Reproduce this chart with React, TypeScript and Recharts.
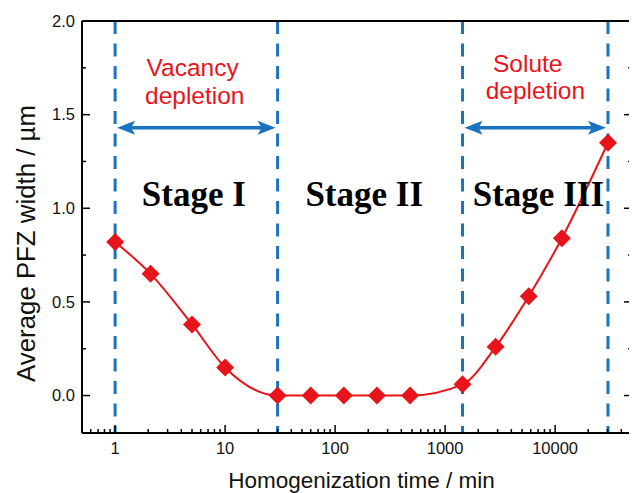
import { LineChart, Line, XAxis, YAxis, ReferenceLine, ReferenceDot } from 'recharts'

// homogenization time (min) vs. average PFZ width (µm)
const TIME_MIN = [1, 2.1, 5, 10, 30, 60, 120, 240, 480, 1440, 2880, 5760, 11520, 30240]
const PFZ_WIDTH_UM = [0.82, 0.65, 0.38, 0.15, 0, 0, 0, 0, 0, 0.06, 0.26, 0.53, 0.84, 1.35]

const X_MAJOR = [1, 10, 100, 1000, 10000]
const X_MINOR = [
  0.6, 0.7, 0.8, 0.9,
  2, 3, 4, 5, 6, 7, 8, 9,
  20, 30, 40, 50, 60, 70, 80, 90,
  200, 300, 400, 500, 600, 700, 800, 900,
  2000, 3000, 4000, 5000, 6000, 7000, 8000, 9000,
  20000, 30000, 40000,
]
const Y_MAJOR = [0, 0.5, 1, 1.5, 2]
const Y_MINOR = [0.25, 0.75, 1.25, 1.75]

// stage boundaries and labels
const STAGE_BOUNDS = [1, 30, 1440, 30240]
const STAGE_NAMES = ['Stage I', 'Stage II', 'Stage III']
const STAGE_X = [5.2, 184, 7045]
const STAGE_Y = 1.01

const ARROW_FROM = [1, 1440]
const ARROW_TO = [30, 30240]
const ARROW_Y = 1.43

const NOTE_TEXT = ['Vacancy', 'depletion', 'Solute', 'depletion']
const NOTE_X = [5.06, 5.3, 5640, 6620]
const NOTE_Y = [1.705, 1.555, 1.726, 1.582]

const RED = '#e8141b'
const BLUE = '#1b72be'
const SANS = "'Liberation Sans', Arial, sans-serif"
const SERIF = "'Liberation Serif', 'Times New Roman', serif"

const data = TIME_MIN.map((t, i) => ({ time: t, width: PFZ_WIDTH_UM[i] }))
const X_TICKS = [...X_MAJOR, ...X_MINOR]
const Y_TICKS = [...Y_MAJOR, ...Y_MINOR]

const tickLine = (x1: number, y1: number, x2: number, y2: number) => (
  <line x1={x1} y1={y1} x2={x2} y2={y2} stroke="#000" strokeWidth={1.5} />
)

const BottomTick = ({ x, y, payload }: any) => {
  const major = X_MAJOR.includes(payload.value)
  return (
    <g>
      {tickLine(x, y, x, y - (major ? 8 : 4))}
      {major && (
        <text x={x} y={y + 21} textAnchor="middle" fontSize={16.5} fontFamily={SANS} fill="#111">
          {payload.value}
        </text>
      )}
    </g>
  )
}

const TopTick = ({ x, y, payload }: any) => {
  const major = X_MAJOR.includes(payload.value)
  return <g>{tickLine(x, y, x, y + (major ? 8 : 4))}</g>
}

const LeftTick = ({ x, y, payload }: any) => {
  const major = Y_MAJOR.includes(payload.value)
  return (
    <g>
      {tickLine(x, y, x + (major ? 8 : 4), y)}
      {major && (
        <text x={x - 7} y={y + 5.8} textAnchor="end" fontSize={16.5} fontFamily={SANS} fill="#111">
          {payload.value.toFixed(1)}
        </text>
      )}
    </g>
  )
}

const RightTick = ({ x, y, payload }: any) => {
  const major = Y_MAJOR.includes(payload.value)
  return <g>{tickLine(x, y, x - (major ? 8 : 4), y)}</g>
}

const XTitle = ({ viewBox }: any) => (
  <text
    x={viewBox.x + viewBox.width / 2 + 4.5}
    y={viewBox.y + 54.7}
    textAnchor="middle"
    fontSize={22.5}
    fontFamily={SANS}
    fill="#111"
  >
    Homogenization time / min
  </text>
)

const YTitle = ({ viewBox }: any) => {
  const cx = viewBox.x + 27
  const cy = viewBox.y + viewBox.height / 2 + 16.5
  return (
    <text
      x={cx}
      y={cy}
      transform={`rotate(-90, ${cx}, ${cy})`}
      textAnchor="middle"
      fontSize={25.8}
      fontFamily={SANS}
      fill="#111"
    >
      Average PFZ width / µm
    </text>
  )
}

const Diamond = ({ cx, cy }: any) => (
  <path d={`M${cx},${cy - 9}L${cx + 9},${cy}L${cx},${cy + 9}L${cx - 9},${cy}Z`} fill={RED} />
)

// double-headed arrow between two stage boundaries
const Arrow = ({ x1, y1, x2 }: any) => {
  const l = Math.min(x1, x2) + 2
  const r = Math.max(x1, x2) - 2
  const y = y1
  return (
    <g fill={BLUE}>
      <line x1={l + 12} y1={y} x2={r - 12} y2={y} stroke={BLUE} strokeWidth={3.5} />
      <path d={`M${l},${y}L${l + 18},${y - 7}L${l + 14},${y}L${l + 18},${y + 7}Z`} />
      <path d={`M${r},${y}L${r - 18},${y - 7}L${r - 14},${y}L${r - 18},${y + 7}Z`} />
    </g>
  )
}

export default function App() {
  return (
    <LineChart width={629} height={485} data={data} margin={{ top: 12, right: 0, bottom: 0, left: 0 }}>
      <XAxis
        xAxisId="b"
        dataKey="time"
        type="number"
        scale="log"
        domain={[0.5, 50000]}
        allowDataOverflow
        ticks={X_TICKS}
        interval={0}
        tick={BottomTick}
        tickLine={false}
        tickSize={0}
        tickMargin={0}
        height={60}
        axisLine={{ stroke: '#000', strokeWidth: 2 }}
        label={{ content: XTitle }}
      />
      <XAxis
        xAxisId="t"
        orientation="top"
        type="number"
        scale="log"
        domain={[0.5, 50000]}
        allowDataOverflow
        ticks={X_TICKS}
        interval={0}
        tick={TopTick}
        tickLine={false}
        tickSize={0}
        tickMargin={0}
        height={1}
        axisLine={{ stroke: '#000', strokeWidth: 2 }}
      />
      <YAxis
        yAxisId="l"
        type="number"
        domain={[-0.2, 2]}
        allowDataOverflow
        ticks={Y_TICKS}
        interval={0}
        tick={LeftTick}
        tickLine={false}
        tickSize={0}
        tickMargin={0}
        width={74}
        axisLine={{ stroke: '#000', strokeWidth: 2 }}
        label={{ content: YTitle }}
      />
      <YAxis
        yAxisId="r"
        orientation="right"
        type="number"
        domain={[-0.2, 2]}
        allowDataOverflow
        ticks={Y_TICKS}
        interval={0}
        tick={RightTick}
        tickLine={false}
        tickSize={0}
        tickMargin={0}
        width={5}
        axisLine={{ stroke: '#000', strokeWidth: 2 }}
      />

      {STAGE_BOUNDS.map((t) => (
        <ReferenceLine
          key={`b${t}`}
          xAxisId="b"
          yAxisId="l"
          segment={[{ x: t, y: 2 }, { x: t, y: -0.2 }]}
          ifOverflow="visible"
          stroke={BLUE}
          strokeWidth={3}
          strokeDasharray="13 9.5"
        />
      ))}

      {ARROW_FROM.map((a, i) => (
        <ReferenceLine
          key={`a${i}`}
          xAxisId="b"
          yAxisId="l"
          segment={[{ x: a, y: ARROW_Y }, { x: ARROW_TO[i], y: ARROW_Y }]}
          ifOverflow="visible"
          shape={Arrow}
        />
      ))}

      {STAGE_NAMES.map((name, i) => (
        <ReferenceDot
          key={name}
          xAxisId="b"
          yAxisId="l"
          x={STAGE_X[i]}
          y={STAGE_Y}
          r={0}
          shape={({ cx, cy }: any) => (
            <text x={cx} y={cy} textAnchor="middle" fontSize={35} fontWeight="bold" fontFamily={SERIF} fill="#000">
              {name}
            </text>
          )}
        />
      ))}

      {NOTE_TEXT.map((txt, i) => (
        <ReferenceDot
          key={`n${i}`}
          xAxisId="b"
          yAxisId="l"
          x={NOTE_X[i]}
          y={NOTE_Y[i]}
          r={0}
          shape={({ cx, cy }: any) => (
            <text x={cx} y={cy} textAnchor="middle" fontSize={24.5} fontFamily={SANS} fill={RED}>
              {txt}
            </text>
          )}
        />
      ))}

      <Line
        xAxisId="b"
        yAxisId="l"
        dataKey="width"
        type="monotone"
        stroke={RED}
        strokeWidth={2}
        dot={(p: any) => <Diamond key={p.index} cx={p.cx} cy={p.cy} />}
        activeDot={false}
        isAnimationActive={false}
      />
    </LineChart>
  )
}
